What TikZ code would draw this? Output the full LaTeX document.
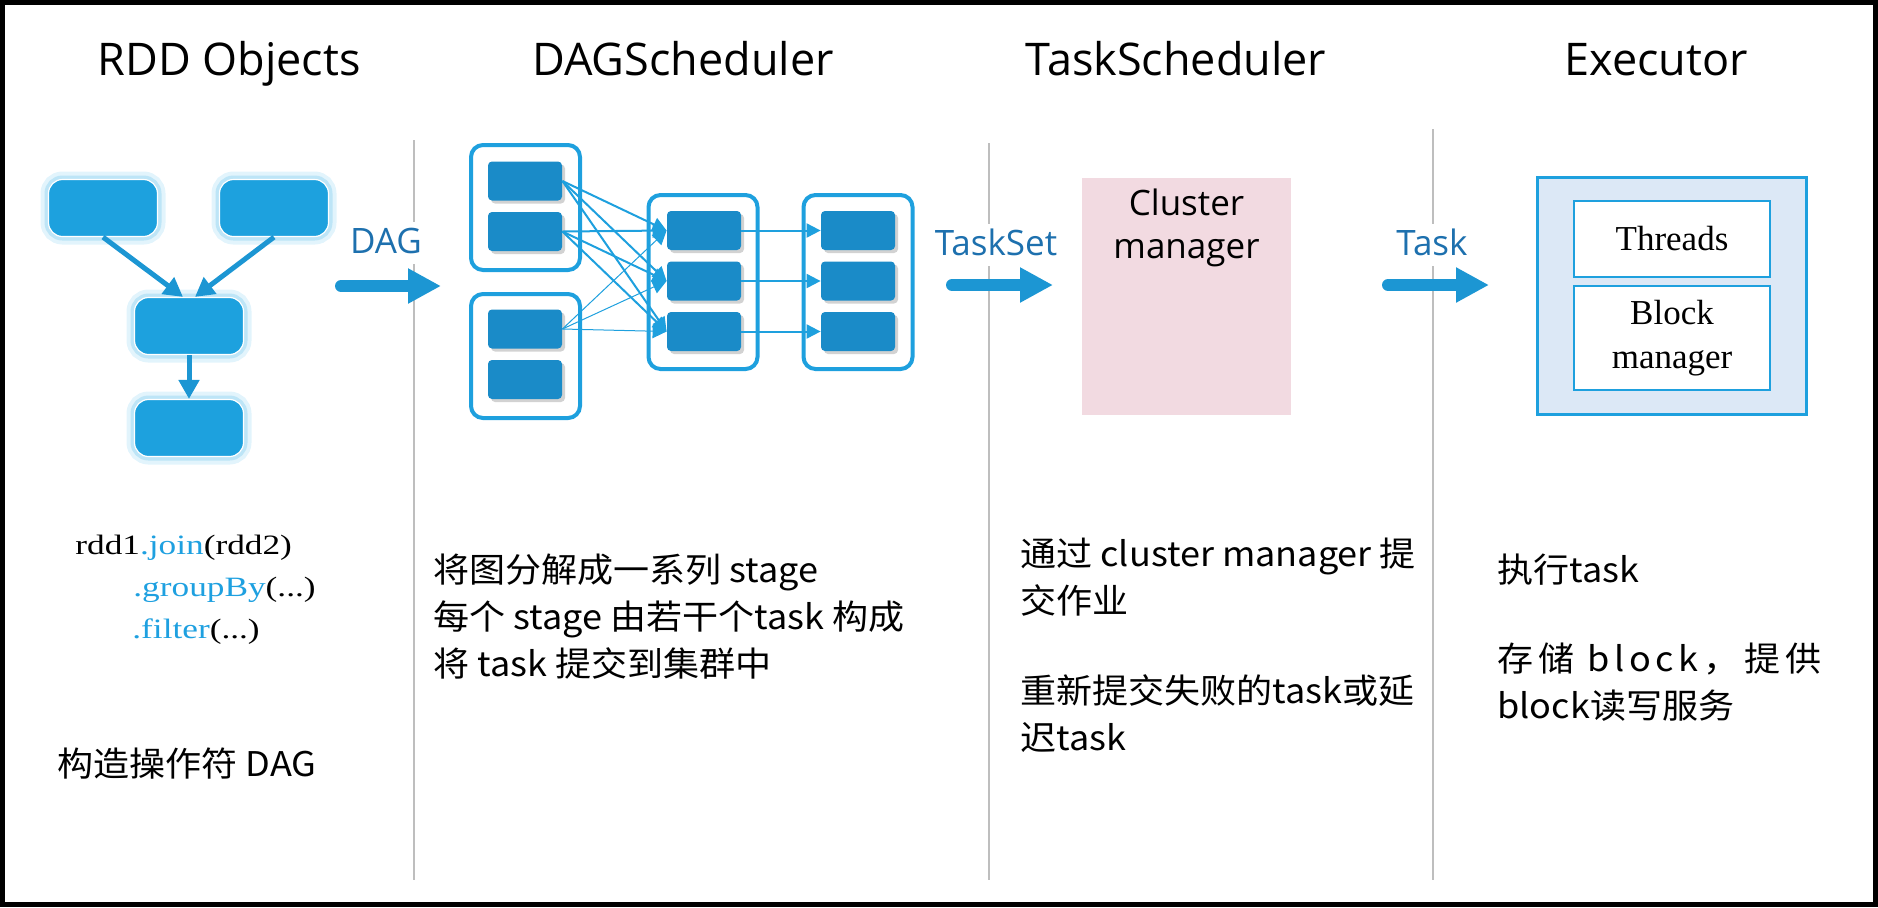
\documentclass[tikz,border=0pt]{standalone}
\usepackage{fontspec}
\setmainfont{Noto Sans CJK SC}[FakeStretch=1.06]
\newfontfamily\headfont{Open Sans}
\newfontfamily\codefont{Liberation Serif}[FakeStretch=1.26]
\newfontfamily\boxfont{Liberation Serif}
\usetikzlibrary{arrows.meta,shadows}
\definecolor{rddblue}{RGB}{29,161,222}
\definecolor{glowblue}{RGB}{160,218,244}
\definecolor{taskblue}{RGB}{26,139,200}
\definecolor{stageblue}{RGB}{30,160,222}
\definecolor{flowblue}{RGB}{28,150,211}
\definecolor{labelblue}{RGB}{29,112,174}
\definecolor{codeblue}{RGB}{30,160,224}
\definecolor{clusterpink}{RGB}{242,218,225}
\definecolor{execfill}{RGB}{220,232,246}
\definecolor{rulegray}{RGB}{190,190,190}
\tikzset{
  title/.style={anchor=base, inner sep=0pt, font=\headfont\fontsize{22.5pt}{27pt}\selectfont},
  flowlabel/.style={anchor=base, fill=white, text=labelblue, inner xsep=1pt, inner ysep=2.5pt,
    text height=13pt, text depth=3pt, font=\headfont\fontsize{17.5pt}{21pt}\selectfont},
  flow/.style={draw=flowblue, line width=6pt, line cap=round, -{Triangle[length=16.5pt,width=16.5pt]}},
  rule/.style={draw=rulegray, line width=1.3pt},
  rdd/.style={rounded corners=7pt, fill=rddblue, draw=white, line width=0.6pt, inner sep=0pt,
    minimum width=54.5pt, minimum height=28.5pt,
    preaction={draw=glowblue!30, line width=8pt}, preaction={draw=glowblue!70, line width=4pt}},
  rddline/.style={draw=flowblue, line width=2.5pt, -{Triangle[length=9.5pt,width=10pt]}},
  stage/.style={draw=stageblue, fill=white, line width=2pt, rounded corners=6pt, inner sep=0pt,
    minimum width=54.5pt},
  task/.style={fill=taskblue, rounded corners=2pt, inner sep=0pt, minimum width=37pt, minimum height=19.5pt,
    drop shadow={shadow xshift=1.5pt, shadow yshift=-1.5pt, opacity=0.35}},
  taskline/.style={draw=stageblue, line width=1pt, -{Triangle[length=7pt,width=7pt]}},
  cluster/.style={fill=clusterpink, inner sep=0pt, minimum width=104.5pt, minimum height=118.5pt},
  exec/.style={fill=execfill, draw=stageblue, line width=1.5pt, inner sep=0pt,
    minimum width=134.5pt, minimum height=118.5pt},
  slot/.style={fill=white, draw=stageblue, line width=1pt, inner sep=0pt, minimum width=98pt, align=center,
    font=\boxfont\fontsize{17.5pt}{22pt}\selectfont},
  code/.style={anchor=base west, align=left, inner sep=0pt, font=\codefont\fontsize{14pt}{21pt}\selectfont},
  note/.style={anchor=base west, align=left, inner sep=0pt, font=\fontsize{17pt}{23.5pt}\selectfont}
}
\begin{document}
\begin{tikzpicture}[x=0.5pt, y=-0.5pt]
  \useasboundingbox (0,0) rectangle (1878,907);
  \draw[line width=2.5pt] (2.5,2.5) rectangle (1875.5,904.5);
  \draw[rule] (414,140) -- (414,880);
  \draw[rule] (989,143) -- (989,880);
  \draw[rule] (1433,129) -- (1433,880);

  \node[title] (t1) at (229,75) {RDD Objects};
  \node[title] (t2) at (683,75) {DAGScheduler};
  \node[title] (t3) at (1176,75) {TaskScheduler};
  \node[title] (t4) at (1656,75) {Executor};

  \node[rdd] (r1) at (103,208) {};
  \node[rdd] (r2) at (274,208) {};
  \node[rdd] (r3) at (189,326) {};
  \node[rdd] (r4) at (189,428) {};
  \begin{scope}[rddline]
    \draw (r1.south) to ([xshift=-3pt]r3.north);
    \draw (r2.south) to ([xshift=3pt]r3.north);
    \draw (r3) to (r4);
  \end{scope}

  \node[flowlabel] (dag) at (386,253) {DAG};
  \node[flowlabel] (taskset) at (996,255) {TaskSet};
  \node[flowlabel] (task) at (1432,255) {Task};
  \coordinate (f1a) at (341,286);
  \coordinate (f1b) at (441,286);
  \coordinate (f2a) at (952,285);
  \coordinate (f2b) at (1053,285);
  \coordinate (f3a) at (1388,285);
  \coordinate (f3b) at (1489,285);
  \draw[flow] (f1a) -- (f1b);
  \draw[flow] (f2a) -- (f2b);
  \draw[flow] (f3a) -- (f3b);

  \node[stage, minimum height=62.5pt] (sa) at (525.5,207.5) {};
  \node[stage, minimum height=62pt] (sb) at (525.5,356) {};
  \node[stage, minimum height=87pt] (sc) at (703,282) {};
  \node[stage, minimum height=87pt] (sd) at (858,282) {};
  \node[task] (a1) at (525,181) {};
  \node[task] (a2) at (525,231.5) {};
  \node[task] (b1) at (525,329) {};
  \node[task] (b2) at (525,379.5) {};
  \node[task] (c1) at (704,230.5) {};
  \node[task] (c2) at (704,281) {};
  \node[task] (c3) at (704,331.5) {};
  \node[task] (d1) at (858,230.5) {};
  \node[task] (d2) at (858,281) {};
  \node[task] (d3) at (858,331.5) {};
  \begin{scope}[taskline]
    \draw (a1.east) to (c1.west);
    \draw (a1.east) to (c2.west);
    \draw (a1.east) to (c3.west);
    \draw (a2.east) to (c1.west);
    \draw (a2.east) to (c2.west);
    \draw (a2.east) to (c3.west);
    \draw (c1) to (d1);
    \draw (c2) to (d2);
    \draw (c3) to (d3);
  \end{scope}
  \begin{scope}[taskline, line width=0.5pt]
    \draw (b1.east) to (c1.west);
    \draw (b1.east) to (c2.west);
    \draw (b1.east) to (c3.west);
  \end{scope}

  \node[cluster] (cm) at (1186.5,296.5) {};
  \node[anchor=north, align=center, inner sep=0pt, font=\headfont\fontsize{17.5pt}{21.5pt}\selectfont]
    (cmtext) at (1186.5,188) {Cluster\\manager};

  \node[exec] (ex) at (1672,296) {};
  \node[slot, minimum height=38pt] (threads) at (1672,239) {Threads};
  \node[slot, minimum height=52pt] (block) at (1672,338) {Block\\manager};

  \node[code] (code) at (75,638) {rdd1{\color{codeblue}.join}(rdd2)\\
    \hspace*{29pt}{\color{codeblue}.groupBy}(...)\\
    \hspace*{28.5pt}{\color{codeblue}.filter}(...)};
  \node[note] (n1) at (57,776) {构造操作符 DAG};
  \node[note] (n2) at (433,676) {将图分解成一系列 stage\\每个 stage 由若干个task 构成\\将 task 提交到集群中};
  \node[note] (n3) at (1020,613) {通过 cluster manager 提\\交作业};
  \node[note] (n4) at (1020,750) {重新提交失败的task或延\\迟task};
  \node[note] (n5) at (1497,582) {执行task};
  \node[note] (n6) at (1497,718) {{\addfontfeature{LetterSpace=14}存储 block，提供}\\block读写服务};
\end{tikzpicture}
\end{document}
